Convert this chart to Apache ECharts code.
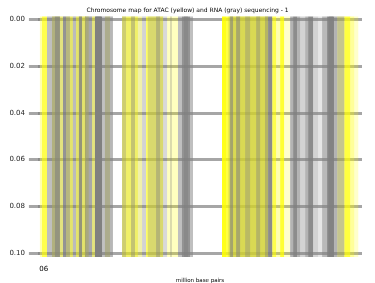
<!DOCTYPE html>
<html>
<head>
<meta charset="utf-8">
<script src="https://cdn.jsdelivr.net/npm/echarts@6/dist/echarts.min.js"></script>
<style>html,body{margin:0;padding:0;background:#fff}#c{width:375px;height:283px}</style>
</head>
<body>
<div id="c"></div>
<script>
// ATAC (yellow) spans: [start Mbp, end Mbp, alpha]
const atacSpans = [
  [0.0, 1.6, 0.3], [1.6, 5.5, 0.7], [9.4, 18.0, 0.5], [20.3, 23.4, 0.5], [23.4, 25.7, 0.6],
  [28.1, 35.9, 0.6], [35.1, 38.0, 0.5], [40.6, 43.7, 0.5], [50.7, 54.6, 0.35],
  [64.0, 76.4, 0.6], [76.4, 79.6, 0.3],
  [82.7, 96.0, 0.6], [99.1, 107.6, 0.25], [141.9, 145.0, 0.9], [145.0, 177.8, 0.75],
  [181.0, 184.1, 0.7], [184.1, 187.2, 0.3], [187.2, 190.3, 0.8], [190.3, 195.0, 0.2],
  [231.7, 237.2, 0.4], [237.2, 241.9, 0.75], [241.9, 245.0, 0.4], [245.0, 248.1, 0.2]
];
// RNA (gray) spans: [start Mbp, end Mbp, alpha]
const rnaSpans = [
  [9.4, 56.9, 0.22], [84.0, 96.0, 0.3], [147.0, 177.8, 0.3], [64.0, 79.6, 0.12],
  [5.5, 9.4, 0.5], [9.4, 11.7, 0.5], [11.7, 15.6, 0.8], [18.0, 20.3, 0.8],
  [20.3, 23.4, 0.45], [25.7, 28.1, 0.4], [30.4, 32.8, 0.8], [35.1, 40.6, 0.6],
  [42.9, 48.4, 1.0], [43.7, 47.6, 0.6], [48.4, 50.7, 0.35], [50.7, 54.6, 0.55],
  [54.6, 56.9, 0.45], [64.0, 67.1, 0.3], [71.0, 74.1, 0.4], [79.6, 82.7, 0.35],
  [90.5, 93.6, 0.4], [96.0, 99.1, 0.3], [101.4, 102.9, 0.3], [107.6, 110.7, 0.5],
  [110.7, 117.0, 0.85], [112.3, 115.4, 0.5], [117.0, 119.3, 0.5], [148.2, 150.5, 0.6],
  [152.9, 156.0, 0.55], [159.9, 163.8, 0.35], [168.5, 171.6, 0.4], [175.4, 177.8, 0.4],
  [177.8, 181.0, 0.9], [195.0, 197.3, 0.6], [197.3, 200.4, 0.9], [200.4, 202.8, 0.6],
  [202.8, 206.7, 0.35], [206.7, 209.0, 0.6], [209.0, 212.9, 0.9], [212.9, 216.8, 0.35],
  [216.8, 219.9, 0.2], [219.9, 223.8, 0.55], [223.8, 229.3, 0.95], [225.4, 228.5, 0.5],
  [229.3, 231.7, 0.6], [231.7, 237.2, 0.45]
];
const xTickValues = [1.2, 4.7, 4.8];
const xTickLabels = ['0', '5', '6'];
const yTicks = [0, 0.02, 0.04, 0.06, 0.08, 0.1];

const chart = echarts.init(document.getElementById('c'), null, {renderer: 'canvas'});
function spanRender(color) {
  return function (params, api) {
    const a = api.coord([api.value(0), yTicks[0]]);
    const b = api.coord([api.value(1), yTicks[yTicks.length - 1]]);
    const top = Math.min(a[1], b[1]) - 3;
    const bot = Math.max(a[1], b[1]) + 4;
    return {
      type: 'rect',
      shape: {x: a[0], y: top, width: b[0] - a[0], height: bot - top},
      style: {fill: color, opacity: api.value(2)}
    };
  };
}
const gridStyle = {color: 'rgba(128,128,128,0.7)', width: 3};
chart.setOption({
  backgroundColor: '#fff',
  animation: false,
  title: {
    text: 'Chromosome map for ATAC (yellow) and RNA (gray) sequencing - 1',
    left: 'center', top: 2,
    textStyle: {fontFamily: 'DejaVu Sans', fontSize: 6, fontWeight: 'normal', color: '#000'}
  },
  grid: {left: 38, right: 13, top: 19.5, bottom: 30, outerBoundsMode: 'none', containLabel: false},
  xAxis: {
    type: 'value', min: -1.5, max: 251,
    name: 'million base pairs', nameLocation: 'middle', nameGap: 15,
    nameTextStyle: {fontFamily: 'DejaVu Sans', fontSize: 5.5, color: '#000'},
    axisLine: {show: false}, axisTick: {show: false, customValues: xTickValues}, splitLine: {show: false},
    axisLabel: {
      show: true, customValues: xTickValues, margin: 12.5, hideOverlap: false,
      showMinLabel: true, showMaxLabel: true,
      fontFamily: 'DejaVu Sans', fontSize: 7, color: '#000',
      formatter: function (v) {
        let best = 0;
        for (let i = 0; i < xTickValues.length; i++) {
          if (Math.abs(xTickValues[i] - v) < Math.abs(xTickValues[best] - v)) best = i;
        }
        return xTickLabels[best];
      }
    }
  },
  yAxis: {
    type: 'value', inverse: true, min: yTicks[0], max: yTicks[yTicks.length - 1], interval: 0.02,
    name: 'entries', nameLocation: 'middle', nameGap: 32,
    nameTextStyle: {fontFamily: 'DejaVu Sans', fontSize: 4.5, color: '#000'},
    axisLine: {show: false},
    axisTick: {show: true, length: 11, lineStyle: gridStyle},
    splitLine: {show: true, lineStyle: gridStyle},
    axisLabel: {
      margin: 13, fontFamily: 'DejaVu Sans', fontSize: 7, color: '#222',
      formatter: function (v) { return v.toFixed(2); }
    }
  },
  series: [
    {type: 'custom', name: 'ATAC', renderItem: spanRender('#ffff00'), data: atacSpans,
     encode: {x: [0, 1]}, clip: false, silent: true},
    {type: 'custom', name: 'RNA', renderItem: spanRender('#808080'), data: rnaSpans,
     encode: {x: [0, 1]}, clip: false, silent: true}
  ]
});
</script>
</body>
</html>
